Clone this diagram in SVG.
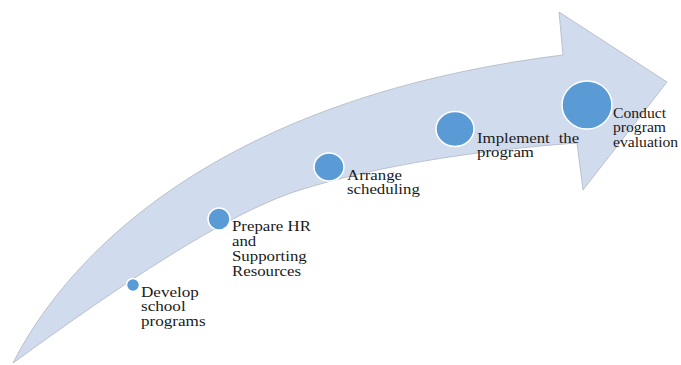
<svg xmlns="http://www.w3.org/2000/svg" width="681" height="365" viewBox="0 0 681 365">
<style>
.arrow{fill:#D0DBEE;stroke:#AEB6C2;stroke-width:0.8}
.dot{fill:#5B9BD5;stroke:#FFFFFF;stroke-width:1.5}
.lbl{font-family:"Liberation Serif","Times New Roman",serif;font-size:14.5px;fill:#1a1a1a}
</style>
<rect width="681" height="365" fill="#FFFFFF"/>
<g id="connectors">
<path class="arrow" d="M13,363 C60,270 200,100 563,55 L559,12 L667,82 L583,190 L577,143 C480,150 380,165 300,190 C220,215 100,300 13,363 Z"/>
</g>
<g id="step1">
<circle class="dot" cx="133" cy="285" r="6.5"/>
<text class="lbl" transform="translate(141,297) scale(1.18,1)"><tspan x="0" y="0">Develop</tspan><tspan x="0" y="14.5">school</tspan><tspan x="0" y="29">programs</tspan></text>
</g>
<g id="step2">
<circle class="dot" cx="219" cy="219" r="11"/>
<text class="lbl" transform="translate(232,231) scale(1.16,1)"><tspan x="0" y="0">Prepare HR</tspan><tspan x="0" y="15">and</tspan><tspan x="0" y="30">Supporting</tspan><tspan x="0" y="45">Resources</tspan></text>
</g>
<g id="step3">
<ellipse class="dot" cx="329" cy="167" rx="15" ry="14"/>
<text class="lbl" transform="translate(347,180) scale(1.16,1)"><tspan x="0" y="0">Arrange</tspan><tspan x="0" y="14.5">scheduling</tspan></text>
</g>
<g id="step4">
<ellipse class="dot" cx="455" cy="129" rx="19" ry="17.5"/>
<text class="lbl" transform="translate(477,142.5) scale(1.16,1)"><tspan x="0" y="0" word-spacing="4">Implement the</tspan><tspan x="0" y="14.5">program</tspan></text>
</g>
<g id="step5">
<ellipse class="dot" cx="587" cy="105" rx="25" ry="24"/>
<text class="lbl" transform="translate(613,118) scale(1.08,1)"><tspan x="0" y="0">Conduct</tspan><tspan x="0" y="14.5">program</tspan><tspan x="0" y="29">evaluation</tspan></text>
</g>
</svg>
